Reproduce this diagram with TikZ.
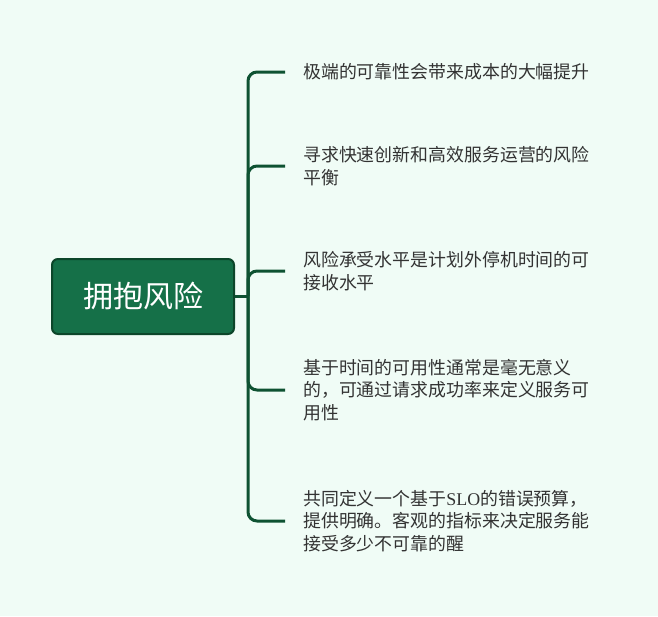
\documentclass[tikz,border=0pt]{standalone}
\usepackage{fontspec}
\setmainfont{Noto Sans CJK SC}
\newfontfamily\slofont{Liberation Serif}
\usetikzlibrary{calc}
\definecolor{bgmint}{RGB}{240,252,246}
\definecolor{rootfill}{RGB}{21,112,72}
\definecolor{rootline}{RGB}{12,70,42}
\definecolor{branchline}{RGB}{14,82,50}
\definecolor{leaftext}{RGB}{51,51,51}
\tikzset{
    rootbox/.style={draw=rootline,fill=rootfill,line width=2pt,rounded corners=6pt,minimum width=182pt,minimum height=75pt,text=white,font=\fontsize{30}{32}\selectfont},
    leaftxt/.style={anchor=west,inner xsep=18pt,inner ysep=0pt,align=left,text=leaftext,font=\fontsize{17.9}{22.5}\selectfont},
    branch/.style={draw=branchline,line width=3pt,rounded corners=9pt}
}

\begin{document}
\begin{tikzpicture}[x=1pt,y=-1pt]
            \fill[bgmint] (0,0) rectangle (658,616);
            \useasboundingbox (0,0) rectangle (658,616);
            \node[rootbox] (root) at (143,296.5) {拥抱风险};
            \node[leaftxt] (cost) at (285,72) {极端的可靠性会带来成本的大幅提升};
            \node[leaftxt] (balance) at (285,166) {寻求快速创新和高效服务运营的风险\\平衡};
            \node[leaftxt] (tolerance) at (285,271) {风险承受水平是计划外停机时间的可\\接收水平};
            \node[leaftxt] (avail) at (285,390) {基于时间的可用性通常是毫无意义\\的，可通过请求成功率来定义服务可\\用性};
            \node[leaftxt] (budget) at (285,521) {共同定义一个基于{\slofont SLO}的错误预算，\\提供明确。客观的指标来决定服务能\\接受多少不可靠的醒};
            \coordinate (trunk) at ($(root.east)+(13,0)$);
            \draw[branchline,line width=3pt] (root.east) -- (trunk);
            \draw[branch] (trunk) |- (cost.west);
            \draw[branch] (trunk) |- (balance.west);
            \draw[branch] (trunk) |- (tolerance.west);
            \draw[branch] (trunk) |- (avail.west);
            \draw[branch] (trunk) |- (budget.west);
    \end{tikzpicture}
\end{document}
